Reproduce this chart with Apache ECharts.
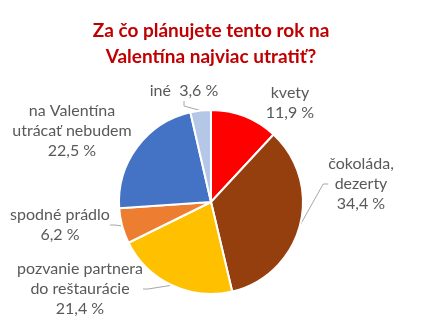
<!DOCTYPE html>
<html><head><meta charset="utf-8">
<script src="https://cdn.jsdelivr.net/npm/echarts@6/dist/echarts.min.js"></script>
<style>html,body{margin:0;padding:0;background:#fff}#c{width:422px;height:332px}</style>
</head><body><div id="c"></div>
<script>
const titleText = 'Za čo plánujete tento rok na\nValentína najviac utratiť?';
const categories = ['kvety', 'čokoláda,\ndezerty', 'pozvanie partnera\ndo reštaurácie', 'spodné prádlo', 'na Valentína\nutrácať nebudem', 'iné'];
const values = [11.9, 34.4, 21.4, 6.2, 22.5, 3.6];
const colors = ['#FF0000', '#963F0E', '#FFC000', '#ED7D31', '#4472C4', '#B4C7E7'];
const showLine = [false, true, true, true, false, true];
const labelPos = [[290,103],[361,184],[80,289],[60,225],[72,131],[184,91]];

const chart = echarts.init(document.getElementById('c'), null, {renderer:'canvas'});
const fmt = v => String(v).replace('.', ',') + ' %';
chart.setOption({
  animation: false,
  title: {
    text: titleText, left: 'center', top: 13,
    textStyle: {color: '#C00000', fontWeight: 'bold', fontSize: 19, lineHeight: 26, fontFamily: 'Lato'}
  },
  series: [{
    type: 'pie',
    center: [211, 202],
    radius: 92,
    startAngle: 90,
    clockwise: true,
    itemStyle: {borderColor: '#fff', borderWidth: 2},
    label: {
      show: true, position: 'outside', color: '#595959', fontSize: 16, lineHeight: 20,
      fontFamily: 'Lato', align: 'center', overflow: 'none',
      formatter: p => p.dataIndex === 5 ? p.name + '  ' + fmt(p.value) : p.name + '\n' + fmt(p.value)
    },
    labelLine: {show: true, lineStyle: {color: '#A6A6A6', width: 1}, length: 5, length2: 5},
    labelLayout: p => ({x: labelPos[p.dataIndex][0], y: labelPos[p.dataIndex][1], align: 'center', verticalAlign: 'middle'}),
    data: categories.map((c, i) => ({
      name: c, value: values[i], itemStyle: {color: colors[i]},
      labelLine: {show: showLine[i]}
    }))
  }]
});
</script></body></html>
